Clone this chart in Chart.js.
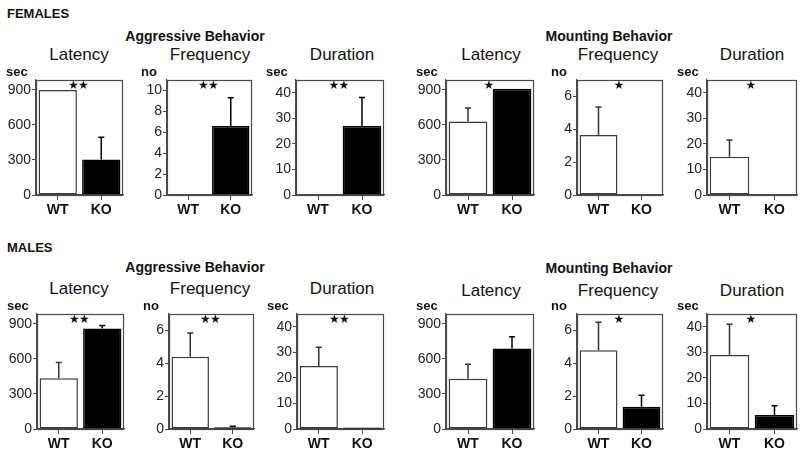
<!DOCTYPE html>
<html><head><meta charset="utf-8">
<script src="https://cdn.jsdelivr.net/npm/chart.js@4"></script>
<style>
body{margin:0;background:#fff;width:800px;height:460px;position:relative;overflow:hidden;font-family:"Liberation Sans",Arial,Helvetica,sans-serif;color:#111;}
.t{position:absolute;transform:translate(-50%,-50%);white-space:nowrap;}
.sex{position:absolute;font-weight:bold;font-size:13px;transform:translateY(-50%);white-space:nowrap;}
.grp{font-weight:bold;font-size:14px;}
.ttl{font-size:17px;}
canvas{position:absolute;}
</style></head><body>
<div class="sex" style="left:7px;top:13px">FEMALES</div>
<div class="t grp" style="left:195px;top:36px">Aggressive Behavior</div>
<div class="t grp" style="left:609px;top:36px">Mounting Behavior</div>
<div class="t ttl" style="left:79px;top:55px">Latency</div>
<div class="t ttl" style="left:210px;top:55px">Frequency</div>
<div class="t ttl" style="left:342px;top:55px">Duration</div>
<div class="t ttl" style="left:491px;top:55px">Latency</div>
<div class="t ttl" style="left:618px;top:55px">Frequency</div>
<div class="t ttl" style="left:752px;top:55px">Duration</div>

<div class="sex" style="left:7px;top:247px">MALES</div>
<div class="t grp" style="left:195px;top:267px">Aggressive Behavior</div>
<div class="t grp" style="left:609px;top:268px">Mounting Behavior</div>
<div class="t ttl" style="left:79px;top:289px">Latency</div>
<div class="t ttl" style="left:210px;top:289px">Frequency</div>
<div class="t ttl" style="left:342px;top:289px">Duration</div>
<div class="t ttl" style="left:491px;top:291px">Latency</div>
<div class="t ttl" style="left:618px;top:291px">Frequency</div>
<div class="t ttl" style="left:752px;top:291px">Duration</div>
<script>
// ---------- DATA ----------
const groups = ['WT', 'KO'];

const fAggLatency      = [900, 305];  const fAggLatencySem      = [0, 190];
const fAggFrequency    = [0, 6.6];    const fAggFrequencySem    = [0, 2.7];
const fAggDuration     = [0, 27];     const fAggDurationSem     = [0, 11.2];
const fMountLatency    = [630, 910];  const fMountLatencySem    = [115, 0];
const fMountFrequency  = [3.65, 0];   const fMountFrequencySem  = [1.7, 0];
const fMountDuration   = [15, 0];     const fMountDurationSem   = [6.5, 0];

const mAggLatency      = [435, 860];  const mAggLatencySem      = [135, 27];
const mAggFrequency    = [4.4, 0.1];  const mAggFrequencySem    = [1.45, 0.06];
const mAggDuration     = [24.7, 0.6]; const mAggDurationSem     = [7.3, 0];
const mMountLatency    = [430, 690];  const mMountLatencySem    = [125, 100];
const mMountFrequency  = [4.8, 1.35]; const mMountFrequencySem  = [1.7, 0.7];
const mMountDuration   = [29, 5.5];   const mMountDurationSem   = [12, 3.6];

const latencyTicks   = [0, 300, 600, 900];
const freq10Ticks    = [0, 2, 4, 6, 8, 10];
const freq6Ticks     = [0, 2, 4, 6];
const durationTicks  = [0, 10, 20, 30, 40];
const latencyMax = 985, freq10Max = 11, freq6Max = 7, durationMax = 45;

const femaleStars = ['**', '**', '**', '*', '*', '*'];
const maleStars   = ['**', '**', '**', '', '*', '*'];
const unitLatency = 'sec', unitFrequency = 'no', unitDuration = 'sec';

// ---------- LAYOUT ----------
const FF = '"Liberation Sans", Arial, Helvetica, sans-serif';
const PAD_T = 18, YW = 36, XH = 28, PAD_R = 4;
const AX = '#4a4a4a';

const panels = [
  {x:36,  y:80,  w:87, h:115, v:fAggLatency,     e:fAggLatencySem,     t:latencyTicks,  max:latencyMax,  u:unitLatency,   s:femaleStars[0]},
  {x:167, y:80,  w:85, h:115, v:fAggFrequency,   e:fAggFrequencySem,   t:freq10Ticks,   max:freq10Max,   u:unitFrequency, s:femaleStars[1]},
  {x:296, y:80,  w:88, h:115, v:fAggDuration,    e:fAggDurationSem,    t:durationTicks, max:durationMax, u:unitDuration,  s:femaleStars[2]},
  {x:446, y:80,  w:88, h:115, v:fMountLatency,   e:fMountLatencySem,   t:latencyTicks,  max:latencyMax,  u:unitLatency,   s:femaleStars[3]},
  {x:577, y:80,  w:86, h:115, v:fMountFrequency, e:fMountFrequencySem, t:freq6Ticks,    max:freq6Max,    u:unitFrequency, s:femaleStars[4]},
  {x:707, y:80,  w:90, h:115, v:fMountDuration,  e:fMountDurationSem,  t:durationTicks, max:durationMax, u:unitDuration,  s:femaleStars[5]},
  {x:37,  y:314, w:87, h:115, v:mAggLatency,     e:mAggLatencySem,     t:latencyTicks,  max:latencyMax,  u:unitLatency,   s:maleStars[0]},
  {x:169, y:314, w:85, h:115, v:mAggFrequency,   e:mAggFrequencySem,   t:freq6Ticks,    max:freq6Max,    u:unitFrequency, s:maleStars[1]},
  {x:297, y:314, w:87, h:115, v:mAggDuration,    e:mAggDurationSem,    t:durationTicks, max:durationMax, u:unitDuration,  s:maleStars[2]},
  {x:446, y:314, w:88, h:115, v:mMountLatency,   e:mMountLatencySem,   t:latencyTicks,  max:latencyMax,  u:unitLatency,   s:maleStars[3]},
  {x:577, y:314, w:86, h:115, v:mMountFrequency, e:mMountFrequencySem, t:freq6Ticks,    max:freq6Max,    u:unitFrequency, s:maleStars[4]},
  {x:707, y:314, w:90, h:115, v:mMountDuration,  e:mMountDurationSem,  t:durationTicks, max:durationMax, u:unitDuration,  s:maleStars[5]},
];

const extras = {
  id: 'extras',
  afterDatasetsDraw(chart, args, opts) {
    const ctx = chart.ctx, ys = chart.scales.y;
    const meta = chart.getDatasetMeta(0);
    const vals = chart.data.datasets[0].data;
    ctx.save();
    ctx.lineWidth = 1.5;
    opts.sem.forEach((s, i) => {
      if (!s) return;
      const x = meta.data[i].x;
      const y0 = ys.getPixelForValue(vals[i]);
      const y1 = ys.getPixelForValue(vals[i] + s);
      ctx.strokeStyle = i === 0 ? '#333' : '#000';
      ctx.beginPath();
      ctx.moveTo(x, y0); ctx.lineTo(x, y1);
      ctx.moveTo(x - 3, y1); ctx.lineTo(x + 3, y1);
      ctx.stroke();
    });
    ctx.restore();
  },
  afterDraw(chart, args, opts) {
    const ctx = chart.ctx, ca = chart.chartArea;
    ctx.save();
    ctx.strokeStyle = AX; ctx.lineWidth = 1.2;
    ctx.strokeRect(Math.round(ca.left) + 0.5, Math.round(ca.top) + 0.5, Math.round(ca.right - ca.left) - 1, Math.round(ca.bottom - ca.top));
    ctx.fillStyle = '#111';
    ctx.font = 'bold 13px ' + FF;
    ctx.textAlign = 'left'; ctx.textBaseline = 'middle';
    ctx.fillText(opts.unit, ca.left - (opts.unit === 'no' ? 26 : 30), ca.top - 8);
    if (opts.stars) {
      // significance marks, drawn as small filled stars
      ctx.font = '12px "DejaVu Sans", sans-serif';
      ctx.textAlign = 'center'; ctx.textBaseline = 'middle';
      const n = opts.stars.length, cx = (ca.left + ca.right) / 2 - 1;
      for (let k = 0; k < n; k++) {
        ctx.fillText('\u2605', cx + (k - (n - 1) / 2) * 10, ca.top + 6);
      }
    }
    ctx.restore();
  }
};

panels.forEach(p => {
  const c = document.createElement('canvas');
  const W = p.w + YW + PAD_R, H = p.h + PAD_T + XH;
  c.width = W; c.height = H;
  c.style.left = (p.x - YW) + 'px'; c.style.top = (p.y - PAD_T) + 'px';
  c.style.width = W + 'px'; c.style.height = H + 'px';
  c.setAttribute('aria-label', p.s);
  document.body.appendChild(c);
  new Chart(c, {
    type: 'bar',
    data: { labels: groups, datasets: [{
      data: p.v,
      backgroundColor: ['#ffffff', '#000000'],
      borderColor: ['#3a3a3a', '#000000'],
      borderWidth: 1.5,
      borderSkipped: false,
      barPercentage: 0.88,
      categoryPercentage: 1
    }]},
    options: {
      responsive: false, animation: false, events: [],
      devicePixelRatio: 1,
      layout: { padding: { top: PAD_T, right: PAD_R, left: 0, bottom: 0 } },
      plugins: { legend: { display: false }, tooltip: { enabled: false },
        extras: { sem: p.e, unit: p.u, stars: p.s } },
      scales: {
        x: {
          grid: { display: true, drawOnChartArea: false, drawTicks: true, tickLength: 5, offset: false, color: AX },
          border: { color: AX, width: 1.2 },
          ticks: { font: { weight: 'bold', size: 14, family: FF }, color: '#111', padding: 2 },
          afterFit(s) { s.height = XH; }
        },
        y: {
          min: 0, max: p.max,
          grid: { drawOnChartArea: false, drawTicks: true, tickLength: 4, color: AX },
          border: { color: AX, width: 1.2 },
          ticks: { font: { size: 14, family: FF }, color: '#222', padding: 1 },
          afterBuildTicks(s) { s.ticks = p.t.map(v => ({ value: v })); },
          afterFit(s) { s.width = YW; }
        }
      }
    },
    plugins: [extras]
  });
});
</script>
</body></html>
